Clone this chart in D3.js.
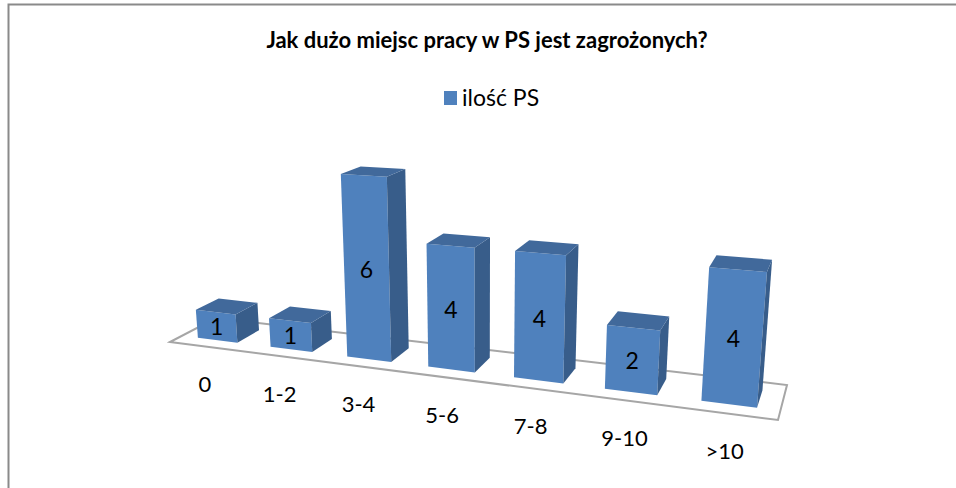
<!DOCTYPE html>
<html>
<head>
<meta charset="utf-8">
<script src="https://cdn.jsdelivr.net/npm/d3@7"></script>
<style>
  body { margin: 0; background: #fff; }
  text { font-family: Lato, "Open Sans", sans-serif; fill: #000; }
</style>
</head>
<body>
<svg id="chart" width="956" height="488"></svg>
<script>
var title = "Jak dużo miejsc pracy w PS jest zagrożonych?";
var seriesName = "ilość PS";
var categories = ["0", "1-2", "3-4", "5-6", "7-8", "9-10", ">10"];
var values = [1, 1, 6, 4, 4, 2, 4];

// layout of the 3d floor on screen (front-left, front-right, back-right, back-left)
var floor = [[170, 342], [778, 420], [787, 385], [216, 318]];
var vanish = [482, 4180];   // where the vertical edges meet
var pxPerUnit = 29.5;       // height of one unit in the middle of the floor

var svg = d3.select("#chart");

// chart frame
svg.append("path")
  .attr("d", "M8.5,488 L8.5,4.5 L956,4.5")
  .attr("fill", "none")
  .attr("stroke", "#8a8a8a")
  .attr("stroke-width", 2);

svg.append("text")
  .attr("x", 487).attr("y", 48)
  .attr("text-anchor", "middle")
  .attr("font-weight", "bold")
  .attr("font-size", 22)
  .text(title);

var legend = svg.append("g");
legend.append("rect")
  .attr("x", 444).attr("y", 91).attr("width", 13).attr("height", 14)
  .attr("fill", "#4f81bd");
legend.append("text")
  .attr("x", 462).attr("y", 106)
  .attr("font-size", 23)
  .text(seriesName);

// solve the floor homography (u in [0,n], v in [0,1])
function solve(A, b) {
  var n = b.length;
  for (var i = 0; i < n; i++) {
    var p = i;
    for (var r = i + 1; r < n; r++) if (Math.abs(A[r][i]) > Math.abs(A[p][i])) p = r;
    var t = A[i]; A[i] = A[p]; A[p] = t;
    var tb = b[i]; b[i] = b[p]; b[p] = tb;
    for (var r = i + 1; r < n; r++) {
      var f = A[r][i] / A[i][i];
      for (var c = i; c < n; c++) A[r][c] -= f * A[i][c];
      b[r] -= f * b[i];
    }
  }
  var x = new Array(n);
  for (var i = n - 1; i >= 0; i--) {
    var s = b[i];
    for (var c = i + 1; c < n; c++) s -= A[i][c] * x[c];
    x[i] = s / A[i][i];
  }
  return x;
}

var nCat = categories.length;
var uv = [[0, 0], [nCat, 0], [nCat, 1], [0, 1]];
var A = [], B = [];
for (var i = 0; i < 4; i++) {
  var u = uv[i][0], v = uv[i][1], X = floor[i][0], Y = floor[i][1];
  A.push([u, v, 1, 0, 0, 0, -u * X, -v * X]); B.push(X);
  A.push([0, 0, 0, u, v, 1, -u * Y, -v * Y]); B.push(Y);
}
var H = solve(A, B);

var lam = 0;
function project(u, v, h) {
  var X = H[0] * u + H[1] * v + H[2] + lam * vanish[0] * h;
  var Y = H[3] * u + H[4] * v + H[5] + lam * vanish[1] * h;
  var W = H[6] * u + H[7] * v + 1 + lam * h;
  return [X / W, Y / W];
}
// pick the vertical column so that one unit is pxPerUnit at the floor centre
var c0 = project(nCat / 2, 0.5, 0);
var W0 = H[6] * nCat / 2 + H[7] * 0.5 + 1;
lam = -pxPerUnit * W0 / (vanish[1] - c0[1]);

var x = d3.scaleBand().domain(categories).range([0, nCat])
  .paddingInner(0.45).paddingOuter(0.225);
var y = d3.scaleLinear().domain([0, 1]).range([0, 1]);
var depth = [0.25, 0.75];

var line = d3.line();
function face(pts) { return line(pts.map(function(p) { return project(p[0], p[1], p[2]); })) + "Z"; }

svg.append("path")
  .attr("d", face([[0, 0, 0], [nCat, 0, 0], [nCat, 1, 0], [0, 1, 0]]))
  .attr("fill", "#fff")
  .attr("stroke", "#a6a6a6")
  .attr("stroke-width", 2);

var bars = svg.selectAll(".bar")
  .data(categories.map(function(c, i) { return { cat: c, val: values[i] }; }))
  .enter().append("g").attr("class", "bar");

bars.each(function(d) {
  var g = d3.select(this);
  var u0 = x(d.cat), u1 = u0 + x.bandwidth();
  var v0 = depth[0], v1 = depth[1], h = y(d.val);
  g.append("path").attr("d", face([[u0, v0, 0], [u1, v0, 0], [u1, v0, h], [u0, v0, h]]))
    .attr("fill", "#4f81bd");
  g.append("path").attr("d", face([[u1, v0, 0], [u1, v1, 0], [u1, v1, h], [u1, v0, h]]))
    .attr("fill", "#385d8a");
  g.append("path").attr("d", face([[u0, v0, h], [u1, v0, h], [u1, v1, h], [u0, v1, h]]))
    .attr("fill", "#41699b");
  var m = project((u0 + u1) / 2, v0, h / 2);
  g.append("text")
    .attr("x", m[0]).attr("y", m[1])
    .attr("text-anchor", "middle")
    .attr("dominant-baseline", "central")
    .attr("font-size", 23)
    .text(d.val);
});

svg.selectAll(".cat")
  .data(categories)
  .enter().append("text")
  .attr("class", "cat")
  .attr("x", function(d) { return project(x(d) + x.bandwidth() / 2, 0, 0)[0] - 1; })
  .attr("y", function(d) { return project(x(d) + x.bandwidth() / 2, 0, 0)[1] + 37; })
  .attr("text-anchor", "middle")
  .attr("dominant-baseline", "central")
  .attr("font-size", 22)
  .text(function(d) { return d; });
</script>
</body>
</html>
